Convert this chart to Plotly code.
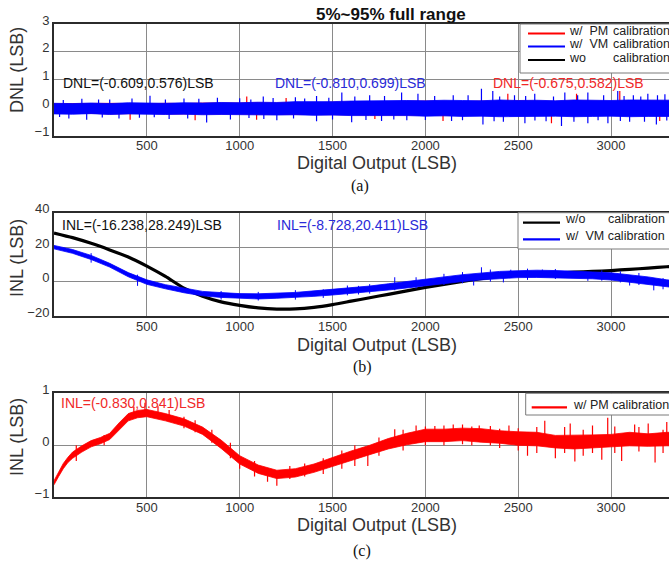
import plotly.graph_objects as go

W, H = 669, 562
ML = 54
PW = W - ML

# ---------------- data ----------------
x_env = list(range(0, 3401, 100))  # digital output codes (LSB)

# (a) DNL envelopes (LSB)
dnl_vm_upper = [0.16, 0.15, 0.17, 0.15, 0.18, 0.17, 0.16, 0.18, 0.17, 0.19, 0.18,
                0.20, 0.19, 0.22, 0.21, 0.22, 0.24,
                0.25, 0.24, 0.26, 0.25, 0.27, 0.26, 0.25, 0.28, 0.26, 0.27, 0.25, 0.28, 0.27, 0.26, 0.28, 0.27, 0.26, 0.27]
dnl_vm_lower = [-0.22, -0.23, -0.21, -0.24, -0.22, -0.23, -0.24, -0.23, -0.25, -0.24, -0.25,
                -0.25, -0.26, -0.25, -0.27, -0.26, -0.28,
                -0.28, -0.29, -0.28, -0.30, -0.29, -0.31, -0.30, -0.32, -0.30, -0.31, -0.30, -0.32, -0.31, -0.30, -0.32, -0.31, -0.30, -0.31]
dnl_pm_upper = [0.14, 0.15, 0.14, 0.16, 0.15, 0.14, 0.16, 0.15, 0.17, 0.16, 0.17,
                0.18, 0.17, 0.19, 0.18, 0.20, 0.21,
                0.22, 0.23, 0.22, 0.24, 0.23, 0.22, 0.24, 0.23, 0.25, 0.24, 0.23, 0.25, 0.24, 0.23, 0.25, 0.24, 0.23, 0.24]
dnl_pm_lower = [-0.20, -0.21, -0.20, -0.22, -0.21, -0.20, -0.22, -0.21, -0.23, -0.22, -0.22,
                -0.23, -0.24, -0.23, -0.24, -0.25, -0.25,
                -0.26, -0.27, -0.26, -0.27, -0.28, -0.27, -0.28, -0.29, -0.28, -0.27, -0.29, -0.28, -0.29, -0.28, -0.27, -0.29, -0.28, -0.28]
dnl_wo_upper = [0.12, 0.13, 0.12, 0.13, 0.12, 0.13, 0.12, 0.13, 0.12, 0.13, 0.12,
                0.13, 0.12, 0.13, 0.12, 0.13, 0.12, 0.13, 0.12, 0.13, 0.12, 0.13, 0.12,
                0.13, 0.12, 0.13, 0.12, 0.13, 0.12, 0.13, 0.12, 0.13, 0.12, 0.13, 0.12]
dnl_wo_lower = [-0.18, -0.19, -0.18, -0.19, -0.18, -0.19, -0.18, -0.19, -0.18, -0.19, -0.18,
                -0.19, -0.18, -0.19, -0.18, -0.19, -0.18, -0.19, -0.18, -0.19, -0.18, -0.19, -0.18,
                -0.19, -0.18, -0.19, -0.18, -0.19, -0.18, -0.19, -0.18, -0.19, -0.18, -0.19, -0.18]

# (a) DNL spikes: code, peak value (LSB)
dnl_vm_up_x = [50, 150, 240, 300, 420, 517, 600, 700, 780, 880, 1000, 1060, 1127, 1180, 1300,
               1350, 1414, 1480, 1550, 1620, 1700, 1780, 1872, 1960, 2050, 2150, 2230, 2302,
               2363, 2400, 2480, 2540, 2589, 2690, 2751, 2820, 2875, 2960, 3036, 3070, 3120,
               3160, 3198, 3250, 3290]
dnl_vm_up_y = [0.28, 0.32, 0.30, 0.30, 0.33, 0.43, 0.30, 0.33, 0.32, 0.36, 0.34, 0.30, 0.40, 0.35, 0.38,
               0.33, 0.42, 0.36, 0.55, 0.40, 0.45, 0.42, 0.55, 0.50, 0.42, 0.45, 0.45, 0.68,
               0.60, 0.40, 0.45, 0.42, 0.50, 0.40, 0.55, 0.45, 0.55, 0.45, 0.60, 0.42, 0.45,
               0.40, 0.50, 0.45, 0.48]
dnl_vm_dn_x = [30, 80, 176, 260, 350, 460, 540, 620, 720, 822, 950, 1050, 1130, 1200, 1290,
               1414, 1500, 1603, 1680, 1764, 1830, 1900, 2000, 2141, 2200, 2310, 2370, 2420,
               2536, 2590, 2650, 2733, 2800, 2875, 2930, 2983, 3050, 3100, 3180, 3244, 3300]
dnl_vm_dn_y = [-0.33, -0.38, -0.43, -0.35, -0.38, -0.36, -0.34, -0.40, -0.38, -0.53, -0.42, -0.37, -0.40, -0.45, -0.38,
               -0.48, -0.42, -0.52, -0.44, -0.47, -0.42, -0.45, -0.44, -0.47, -0.45, -0.60, -0.48, -0.50,
               -0.55, -0.46, -0.48, -0.65, -0.50, -0.55, -0.45, -0.55, -0.47, -0.50, -0.50, -0.60, -0.46]
dnl_pm_up_x = [1038, 1250, 2444, 2814, 3047]
dnl_pm_up_y = [0.40, 0.35, 0.50, 0.50, 0.60]
dnl_pm_dn_x = [410, 760, 1091, 1728, 2095, 2679, 3262]
dnl_pm_dn_y = [-0.43, -0.45, -0.43, -0.40, -0.47, -0.55, -0.47]

# (b) INL without calibration and with VM calibration (LSB)
inl_wo = [28.2, 25.5, 22.2, 18.4, 14.3, 9.0, 3.0, -3.8, -8.5, -11.8, -13.8, -15.3, -16.0, -15.9,
          -15.0, -13.4, -11.4, -9.4, -7.4, -5.4, -3.4, -1.6, 0.1, 1.7, 3.0, 3.9, 4.5, 5.0, 5.5,
          5.9, 6.4, 7.1, 7.8, 8.6, 9.2]
inl_vm = [20.0, 17.5, 14.0, 9.5, 4.0, -0.3, -3.0, -5.2, -7.0, -7.8, -8.4, -8.6, -8.3, -7.8,
          -7.0, -6.2, -5.2, -4.3, -3.1, -1.9, -0.5, 0.8, 2.0, 3.0, 3.8, 4.3, 4.5, 4.4, 4.1,
          3.6, 3.0, 2.0, 0.6, -1.0, -2.2]
inl_vm_halfwidth = [1.0, 1.1, 1.2, 1.1, 1.2, 1.3, 1.2, 1.3, 1.3, 1.4, 1.4, 1.5, 1.4, 1.5, 1.6,
                    1.6, 1.7, 1.7, 1.8, 1.8, 1.9, 1.9, 2.0, 2.0, 2.1, 2.0, 2.1, 2.0, 2.1, 2.0,
                    2.1, 2.0, 2.1, 2.0, 2.1]
inl_vm_spike_x = [200, 450, 900, 1100, 1300, 1450, 1580, 1640, 1700, 1835, 1950, 2100, 2200, 2260,
                  2302, 2350, 2420, 2460, 2550, 2630, 2700, 2805, 2875, 2950, 3050, 3100, 3150,
                  3230, 3280]
inl_vm_spike_lo = [11.0, -2.5, -10.5, -11.0, -10.5, -9.5, -8.0, -7.5, -7.0, -5.0, -4.0, -2.0, -1.0, -2.3,
                   3.0, 0.0, -0.5, 4.0, 1.0, 4.0, 1.5, 4.0, 0.4, 0.5, -0.5, -2.3, -2.0,
                   -5.1, -4.5]
inl_vm_spike_hi = [16.5, 4.0, -5.5, -6.0, -5.0, -4.5, -2.3, -2.5, -1.5, 2.5, 2.5, 4.5, 5.5, 2.5,
                   8.3, 7.0, 4.0, 6.9, 7.5, 7.0, 7.3, 5.7, 4.0, 6.5, 6.0, 2.0, 5.0,
                   0.5, 2.0]

# (c) INL with PM calibration (LSB)
x_pm = [0, 25, 50, 75, 100, 150, 200, 250, 300, 350, 400, 450, 500] + list(range(600, 3401, 100))
inl_pm = [-0.72, -0.55, -0.40, -0.28, -0.19, -0.07, 0.03, 0.09, 0.17, 0.36, 0.54, 0.60, 0.62,
          0.54, 0.44, 0.28, 0.02, -0.28, -0.46, -0.56, -0.53, -0.44, -0.32, -0.20, -0.09, 0.03,
          0.12, 0.19, 0.19, 0.21, 0.19, 0.16, 0.13, 0.12, 0.07, 0.06, 0.07, 0.09, 0.12, 0.10,
          0.12, 0.12]
inl_pm_halfwidth = [0.04, 0.05, 0.05, 0.05, 0.06, 0.06, 0.06, 0.06, 0.06, 0.07, 0.07, 0.07, 0.07,
                    0.07, 0.07, 0.07, 0.08, 0.08, 0.08, 0.08, 0.08, 0.08, 0.09, 0.09, 0.09,
                    0.10, 0.11, 0.12, 0.12, 0.12, 0.13, 0.12, 0.13, 0.13, 0.12, 0.13, 0.13, 0.12,
                    0.13, 0.12, 0.13, 0.13]
inl_pm_spike_x = [120, 270, 430, 490, 560, 620, 700, 760, 850, 950, 1000, 1080, 1150, 1200, 1270,
                  1350, 1450, 1550, 1620, 1690, 1750, 1835, 1880, 1950, 2000, 2051, 2100, 2150,
                  2200, 2250, 2290, 2350, 2400, 2450, 2500, 2550, 2600, 2643, 2700, 2750, 2780,
                  2805, 2850, 2900, 2950, 2982, 3020, 3057, 3127, 3150, 3200, 3237, 3280, 3300,
                  3350]
inl_pm_spike_lo = [-0.30, 0.00, 0.55, 0.60, 0.55, 0.45, 0.33, 0.25, 0.05, -0.25, -0.45, -0.60, -0.70, -0.78, -0.65,
                   -0.60, -0.55, -0.45, -0.40, -0.40, -0.20, 0.10, -0.10, 0.15, 0.00, 0.20, 0.00, 0.20,
                   0.02, 0.00, 0.20, 0.00, -0.05, 0.15, -0.10, -0.20, -0.15, 0.10, -0.25, -0.15, 0.05,
                   -0.31, -0.20, -0.15, -0.28, 0.10, -0.15, -0.30, 0.10, -0.12, 0.10, -0.33, -0.15, 0.10,
                   -0.30]
inl_pm_spike_hi = [0.00, 0.20, 0.74, 0.82, 0.75, 0.68, 0.55, 0.48, 0.30, 0.05, -0.28, -0.30, -0.50, -0.55, -0.40,
                   -0.35, -0.25, -0.10, 0.00, -0.10, 0.15, 0.31, 0.30, 0.38, 0.36, 0.37, 0.38, 0.40,
                   0.40, 0.36, 0.38, 0.37, 0.32, 0.38, 0.33, 0.10, 0.35, 0.47, 0.05, 0.35, 0.42,
                   0.05, 0.30, 0.38, 0.05, 0.53, 0.36, 0.10, 0.40, 0.35, 0.42, 0.10, 0.30, 0.45,
                   0.10]

x_ticks = [500, 1000, 1500, 2000, 2500, 3000]

RED = "#ff0000"
BLUE = "#0000ff"
BLACK = "#000000"
FONT = "Liberation Sans, Arial, sans-serif"
TXT = "#333333"

# ---------------- helpers ----------------
def band(x, lo, hi, color, xa, ya, width=0.8):
    xs = list(x) + list(x)[::-1]
    ys = list(hi) + list(lo)[::-1]
    return go.Scatter(x=xs, y=ys, fill="toself", fillcolor=color, mode="lines",
                      line=dict(color=color, width=width), xaxis=xa, yaxis=ya,
                      hoverinfo="skip", showlegend=False)


def spikes(xv, lo, hi, color, xa, ya, width=1.2):
    xs, ys = [], []
    for a, b, c in zip(xv, lo, hi):
        xs += [a, a, None]
        ys += [b, c, None]
    return go.Scatter(x=xs, y=ys, mode="lines", line=dict(color=color, width=width),
                      xaxis=xa, yaxis=ya, hoverinfo="skip", showlegend=False)


fig = go.Figure()

# (a)
fig.add_trace(band(x_env, dnl_wo_lower, dnl_wo_upper, BLACK, "x", "y"))
fig.add_trace(band(x_env, dnl_pm_lower, dnl_pm_upper, RED, "x", "y"))
fig.add_trace(spikes(dnl_pm_up_x, [0] * len(dnl_pm_up_x), dnl_pm_up_y, RED, "x", "y"))
fig.add_trace(spikes(dnl_pm_dn_x, dnl_pm_dn_y, [0] * len(dnl_pm_dn_x), RED, "x", "y"))
fig.add_trace(band(x_env, dnl_vm_lower, dnl_vm_upper, BLUE, "x", "y"))
fig.add_trace(spikes(dnl_vm_up_x, [0] * len(dnl_vm_up_x), dnl_vm_up_y, BLUE, "x", "y"))
fig.add_trace(spikes(dnl_vm_dn_x, dnl_vm_dn_y, [0] * len(dnl_vm_dn_x), BLUE, "x", "y"))

# (b)
vm_hi = [c + h for c, h in zip(inl_vm, inl_vm_halfwidth)]
vm_lo = [c - h for c, h in zip(inl_vm, inl_vm_halfwidth)]
fig.add_trace(go.Scatter(x=x_env, y=inl_wo, mode="lines", line=dict(color=BLACK, width=3.2, shape="spline", smoothing=0.6),
                         xaxis="x2", yaxis="y2", hoverinfo="skip", showlegend=False))
fig.add_trace(band(x_env, vm_lo, vm_hi, BLUE, "x2", "y2"))
fig.add_trace(spikes(inl_vm_spike_x, inl_vm_spike_lo, inl_vm_spike_hi, BLUE, "x2", "y2", width=1.0))

# (c)
pm_hi = [c + h for c, h in zip(inl_pm, inl_pm_halfwidth)]
pm_lo = [c - h for c, h in zip(inl_pm, inl_pm_halfwidth)]
fig.add_trace(band(x_pm, pm_lo, pm_hi, RED, "x3", "y3"))
fig.add_trace(spikes(inl_pm_spike_x, inl_pm_spike_lo, inl_pm_spike_hi, RED, "x3", "y3"))


def ydom(top_px, bot_px):
    return [1 - bot_px / H, 1 - top_px / H]


def xaxis(anchor):
    return dict(domain=[0, 1], range=[0, 3312], anchor=anchor, tickvals=x_ticks,
                showgrid=True, gridcolor="#8a8a8a", gridwidth=1, zeroline=False,
                showline=True, linecolor="#2b2b2b", linewidth=2, mirror=True,
                ticks="", ticklabelstandoff=-3, automargin=False,
                tickfont=dict(family=FONT, size=13, color=TXT))


def yaxis(anchor, dom, rng, tv):
    return dict(domain=dom, range=rng, anchor=anchor, tickvals=tv,
                showgrid=True, gridcolor="#8a8a8a", gridwidth=1, zeroline=False,
                showline=True, linecolor="#2b2b2b", linewidth=2, mirror=False,
                ticks="", ticklabelshift=-4, automargin=False,
                tickfont=dict(family=FONT, size=13, color=TXT))


fig.update_layout(
    width=W, height=H, margin=dict(l=ML, r=0, t=0, b=0, pad=0, autoexpand=False),
    paper_bgcolor="white", plot_bgcolor="white", showlegend=False,
    xaxis=xaxis("y"), yaxis=yaxis("x", ydom(24, 135.7), [-1, 3], [-1, 0, 1, 2, 3]),
    xaxis2=xaxis("y2"), yaxis2=yaxis("x2", ydom(212.7, 316), [-20, 40], [-20, 0, 20, 40]),
    xaxis3=xaxis("y3"), yaxis3=yaxis("x3", ydom(393.3, 497.3), [-1, 1], [-1, 0, 1]),
)


def px(xp):
    return (xp - ML) / PW


def py(yp):
    return 1 - yp / H


ann = []


def text(t, x, y, color=TXT, size=13, anchor="left", family=FONT, angle=0):
    ann.append(dict(text=t, x=px(x), y=py(y), xref="paper", yref="paper",
                    xanchor=anchor, yanchor="middle", showarrow=False, textangle=angle,
                    font=dict(family=family, size=size, color=color)))


# title
text("<b>5%~95% full range</b>", 391, 14, color="#111111", size=17, anchor="center")
# axis titles
for yy in (163, 345, 525):
    text("Digital Output (LSB)", 377, yy, size=18, anchor="center")
text("DNL (LSB)", 17, 70, size=18, anchor="center", angle=-90)
text("INL (LSB)", 17, 258, size=18, anchor="center", angle=-90)
text("INL (LSB)", 17, 437, size=18, anchor="center", angle=-90)
# panel labels
SERIF = "Liberation Serif, Times New Roman, serif"
text("(a)", 360, 186, color="#111111", size=16, anchor="center", family=SERIF)
text("(b)", 362, 367, color="#111111", size=16, anchor="center", family=SERIF)
text("(c)", 362, 551, color="#111111", size=16, anchor="center", family=SERIF)
# stats
text("DNL=(-0.609,0.576)LSB", 61, 82.5, color="#111111", size=14)
text("DNL=(-0.810,0.699)LSB", 273, 82.5, color="#2a2ad8", size=14)
text("DNL=(-0.675,0.582)LSB", 491, 82.5, color="#f02828", size=14)
text("INL=(-16.238,28.249)LSB", 60, 225, color="#111111", size=14)
text("INL=(-8.728,20.411)LSB", 275, 225, color="#2a2ad8", size=14)
text("INL=(-0.830,0.841)LSB", 59, 403, color="#f02828", size=14)

# legends
shapes = []


def rect(x0, y0, x1, y1):
    shapes.append(dict(type="rect", xref="paper", yref="paper", x0=px(x0), x1=px(x1),
                       y0=py(y1), y1=py(y0), fillcolor="white",
                       line=dict(color="#7a7a7a", width=1), layer="above"))


def seg(x0, x1, y, color):
    shapes.append(dict(type="line", xref="paper", yref="paper", x0=px(x0), x1=px(x1),
                       y0=py(y), y1=py(y), line=dict(color=color, width=2.2), layer="above"))


rect(520, 24, 700, 73)
seg(528, 565, 33.5, RED)
seg(528, 565, 46.5, BLUE)
seg(528, 565, 60, BLACK)
text("w/&nbsp;&nbsp;PM", 567, 31, color="#222222", size=12.5)
text("w/&nbsp;&nbsp;VM", 567, 44, color="#222222", size=12.5)
text("wo", 567, 58, color="#222222", size=12.5)
for yy in (31, 44, 58):
    text("calibration", 611, yy, color="#222222", size=12.5)

rect(518, 212.7, 700, 249)
seg(523, 560, 222.7, BLACK)
seg(523, 560, 239.3, BLUE)
text("w/o", 562.7, 219, color="#222222", size=12.5)
text("calibration", 606, 219, color="#222222", size=12.5)
text("w/&nbsp;&nbsp;VM calibration", 562.7, 235.5, color="#222222", size=12.5)

rect(525.7, 393.3, 700, 415)
seg(531.7, 567, 407.3, RED)
text("w/ PM calibration", 570.7, 404.5, color="#222222", size=12.5)

fig.update_layout(annotations=ann, shapes=shapes)

fig.write_html(
    "out.html",
    config={"displayModeBar": False, "staticPlot": True},
    post_script="document.body.style.margin='0';document.body.style.padding='0';"
                "document.body.style.overflow='hidden';"
                "document.documentElement.style.overflow='hidden';",
)
